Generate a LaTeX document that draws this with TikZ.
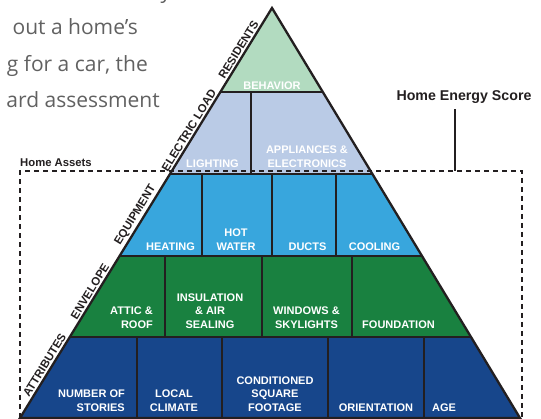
\documentclass[tikz,border=0pt]{standalone}
\usepackage{fontspec}
\setmainfont{Liberation Sans}
\newfontfamily\proseface{Open Sans}
\usetikzlibrary{calc}

\definecolor{behavior}{HTML}{B2DBC0}
\definecolor{elecload}{HTML}{BACBE6}
\definecolor{equipment}{HTML}{38A6DD}
\definecolor{envelope}{HTML}{198140}
\definecolor{attributes}{HTML}{17468B}
\definecolor{ink}{HTML}{231F20}

\tikzset{
  cell/.style={text=white, font=\bfseries\fontsize{11}{13.8}\selectfont, align=center, inner sep=0pt},
  side/.style={text=ink, font=\bfseries\fontsize{11.5}{13}\selectfont, sloped, above, inner sep=2.5pt},
  divider/.style={ink, line width=2pt},
  outline/.style={ink, line width=2.3pt, line join=miter},
  frame/.style={ink, line width=1.4pt, dash pattern=on 5pt off 4pt},
  prose/.style={text=black!62, font=\proseface\fontsize{21}{25}\selectfont, inner sep=0pt}
}

\begin{document}
\begin{tikzpicture}[x=1pt, y=-1pt]
    \useasboundingbox (0,0) rectangle (541,419);

    % Cut-off running text on the left
    \node[prose, anchor=base] (prose0) at (166,-1) {y};
    \node[prose, anchor=base east] (prose1) at (138,35) {out a home’s};
    \node[prose, anchor=base east] (prose2) at (148,72) {g for a car, the};
    \node[prose, anchor=base east] (prose3) at (160,108) {ard assessment};

    % Corners of the pyramid
    \coordinate (apex) at (272,8);
    \coordinate (bl) at (20,418);
    \coordinate (br) at (520,418);

    % Edge points where each tier meets the next one
    \foreach \n/\t in {1/0.7951, 2/0.5963, 3/0.3951, 4/0.1976} {
        \coordinate (l\n) at ($(bl)!\t!(apex)$);
        \coordinate (r\n) at ($(br)!\t!(apex)$);
    }

    % Fill the tiers
    \fill[behavior] (apex) -- (l1) -- (r1) -- cycle;
    \fill[elecload] (l1) -- (l2) -- (r2) -- (r1) -- cycle;
    \fill[equipment] (l2) -- (l3) -- (r3) -- (r2) -- cycle;
    \fill[envelope] (l3) -- (l4) -- (r4) -- (r3) -- cycle;
    \fill[attributes] (l4) -- (bl) -- (br) -- (r4) -- cycle;

    % Lines between the tiers
    \foreach \n in {1,2,3,4}
        \draw[divider] (l\n) -- (r\n);

    % Lines between the cells of each tier
    \draw[divider] (251,92) -- (251,173.5);
    \foreach \x in {202,272,336}
        \draw[divider] (\x,173.5) -- (\x,256);
    \foreach \x in {165,262,352}
        \draw[divider] (\x,256) -- (\x,337);
    \foreach \x in {137,222,328,424}
        \draw[divider] (\x,337) -- (\x,418);

    % Outline
    \draw[outline] (apex) -- (bl) -- (br) -- cycle;

    % Cell labels
    \node[cell, anchor=south] (behav) at (272,90) {BEHAVIOR};
    \node[cell, anchor=south] (lighting) at (212.5,168) {LIGHTING};
    \node[cell, anchor=south] (appliances) at (307,168) {APPLIANCES \&\\ELECTRONICS};
    \node[cell, anchor=south] (heating) at (170.5,251) {HEATING};
    \node[cell, anchor=south] (hotwater) at (236,251) {HOT\\WATER};
    \node[cell, anchor=south] (ducts) at (307.5,251) {DUCTS};
    \node[cell, anchor=south] (cooling) at (374.5,251) {COOLING};
    \node[cell, anchor=south east, align=right] (attic) at (153,329) {ATTIC \&\\ROOF};
    \node[cell, anchor=south] (insulation) at (210,329) {INSULATION\\\& AIR\\SEALING};
    \node[cell, anchor=south] (windows) at (306.5,329) {WINDOWS \&\\SKYLIGHTS};
    \node[cell, anchor=south] (foundation) at (398.5,329) {FOUNDATION};
    \node[cell, anchor=south east, align=right] (stories) at (125,412) {NUMBER OF\\STORIES};
    \node[cell, anchor=south] (climate) at (174,412) {LOCAL\\CLIMATE};
    \node[cell, anchor=south] (footage) at (275,412) {CONDITIONED\\SQUARE\\FOOTAGE};
    \node[cell, anchor=south] (orientation) at (376,412) {ORIENTATION};
    \node[cell, anchor=south west] (age) at (432,412) {AGE};

    % Labels along the left edge
    \path (bl) -- (apex)
        node[side, pos=0.12] (attrlbl) {ATTRIBUTES}
        node[side, pos=0.30] (envlbl) {ENVELOPE}
        node[side, pos=0.485] (equiplbl) {EQUIPMENT}
        node[side, pos=0.693] (loadlbl) {ELECTRIC LOAD}
        node[side, pos=0.89] (reslbl) {RESIDENTS};

    % Dashed frame for the home assets
    \coordinate (fa) at (20,418);
    \coordinate (fb) at (20,171);
    \coordinate (fc) at (522,171);
    \coordinate (fd) at (522,418);
    \draw[frame] (fa) -- (fb) -- (fc) -- (fd);
    \node[text=ink, font=\bfseries\fontsize{11.3}{13}\selectfont, anchor=base west, inner sep=0pt] (assets) at (20,167) {Home Assets};

    % Home Energy Score and its stem
    \node[text=ink, font=\bfseries\fontsize{14.2}{16}\selectfont, anchor=base, inner sep=3pt] (score) at (464,101) {Home Energy Score};
    \coordinate (scorefoot) at (455,171);
    \draw[ink, line width=1.8pt, shorten <=2pt] (score.south -| scorefoot) -- (scorefoot);
\end{tikzpicture}
\end{document}
